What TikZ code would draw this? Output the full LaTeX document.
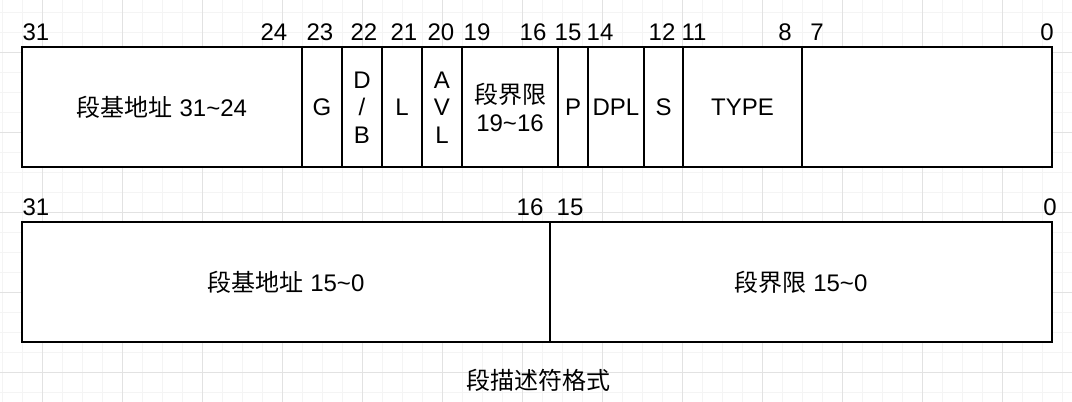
\documentclass[tikz,border=0pt]{standalone}
\usepackage{fontspec}
\setmainfont{Liberation Sans}
\newfontfamily\cjk{Noto Sans CJK SC}
\usepackage{xcolor}
\definecolor{gridminor}{HTML}{F4F4F4}
\definecolor{gridmajor}{HTML}{E2E2E2}
\usetikzlibrary{positioning}

\begin{document}
\begin{tikzpicture}[x=0.75pt, y=-0.75pt, font=\fontsize{18pt}{20.5pt}\selectfont, cell/.style = {rectangle, draw, line width=1.5pt, fill=white, minimum height=90pt, inner sep=0pt, outer sep=0pt, align=center}, bit/.style = {anchor=base, inner sep=0pt}, minor/.style = {draw=gridminor, line width=0.75pt}, major/.style = {draw=gridmajor, line width=0.75pt}]

\useasboundingbox[fill=white] (0,0) rectangle (1072,402);

% grid
\foreach \x in {2,22,...,1062} \draw[minor] (\x,0) -- (\x,402);
\foreach \y in {13,33,...,393} \draw[minor] (0,\y) -- (1072,\y);
\foreach \x in {42,122,...,1042} \draw[major] (\x,0) -- (\x,402);
\foreach \y in {53,133,...,373} \draw[major] (0,\y) -- (1072,\y);

% high word
\node[cell, minimum width=210pt, anchor=north west] (base1) at (22,47.5) {{\cjk 段基地址} 31\textasciitilde24};
\node[cell, minimum width=30pt, right=0pt of base1] (g) {G};
\node[cell, minimum width=30pt, right=0pt of g] (db) {D\\/\\B};
\node[cell, minimum width=30pt, right=0pt of db] (l) {L};
\node[cell, minimum width=30pt, right=0pt of l] (avl) {A\\V\\L};
\node[cell, minimum width=72pt, right=0pt of avl] (limit1) {{\cjk 段界限}\\19\textasciitilde16};
\node[cell, minimum width=22.5pt, right=0pt of limit1] (p) {P};
\node[cell, minimum width=42pt, right=0pt of p] (dpl) {DPL};
\node[cell, minimum width=29.25pt, right=0pt of dpl] (s) {S};
\node[cell, minimum width=89.25pt, right=0pt of s] (type) {TYPE};
\node[cell, minimum width=187.5pt, right=0pt of type] (base3) {};

% low word
\node[cell, minimum width=396pt, anchor=north west] (base2) at (22,222) {{\cjk 段基地址} 15\textasciitilde0};
\node[cell, minimum width=376.5pt, right=0pt of base2] (limit2) {{\cjk 段界限} 15\textasciitilde0};

% bit numbers
\node[bit] (h31) at (36,41) {31};
\node[bit] (h24) at (274,41) {24};
\node[bit] (h23) at (320,41) {23};
\node[bit] (h22) at (364,41) {22};
\node[bit] (h21) at (404,41) {21};
\node[bit] (h20) at (441,41) {20};
\node[bit] (h19) at (477,41) {19};
\node[bit] (h16) at (533,41) {16};
\node[bit] (h15) at (568,41) {15};
\node[bit] (h14) at (600,41) {14};
\node[bit] (h12) at (662,41) {12};
\node[bit] (h11) at (694,41) {11};
\node[bit] (h8) at (785,41) {8};
\node[bit] (h7) at (817,41) {7};
\node[bit] (h0) at (1047,41) {0};

\node[bit] (l31) at (36,216) {31};
\node[bit] (l16) at (530,216) {16};
\node[bit] (l15) at (570,216) {15};
\node[bit] (l0) at (1050,216) {0};

\node[inner sep=0pt] (caption) at (538,380) {\cjk 段描述符格式};
\end{tikzpicture}
\end{document}
